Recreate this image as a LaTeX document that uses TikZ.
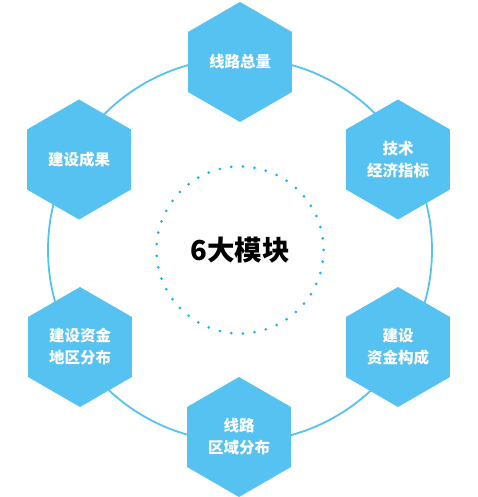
\documentclass[tikz,border=0pt]{standalone}
\usepackage{fontspec}
\usepackage{tikz}
\usetikzlibrary{shapes.geometric}
\newfontfamily\cjk{Noto Sans CJK SC}
\definecolor{Hex_Blue}{HTML}{56C2F1}
\definecolor{Dot_Cyan}{HTML}{1CB4EA}

\begin{document}
\begin{tikzpicture}[
    x=1pt, y=1pt,
    hexa/.style={
        regular polygon,
        regular polygon sides=6,
        shape border rotate=30,
        minimum size=120pt,
        inner sep=0pt,
        fill=Hex_Blue,
        draw=none,
        text=white,
        align=center,
        font=\cjk\bfseries\fontsize{15.5}{22}\selectfont
    },
    ring/.style={draw=Hex_Blue, line width=1.8pt},
    title/.style={font=\cjk\bfseries\fontsize{27.5}{30}\selectfont, text=black}
]
\useasboundingbox (0,0) rectangle (477,497);

\coordinate (O) at (240,247);

% outer ring and dotted inner ring
\draw[ring] (O) circle (192);
\foreach \a in {0,8,...,352}
    \fill[Dot_Cyan] (O) ++(\a:83.5) circle (1.5);

\node[title] (center) at (O) {6大模块};

% six modules
\node[hexa] (total)  at (240,435)   {线路总量};
\node[hexa] (tech)   at (398,337.5) {技术\\经济指标};
\node[hexa] (invest) at (398,150)   {建设\\资金构成};
\node[hexa] (region) at (239,60)    {线路\\区域分布};
\node[hexa] (area)   at (80,150)    {建设资金\\地区分布};
\node[hexa] (result) at (79,337.5)  {建设成果};

\end{tikzpicture}
\end{document}
